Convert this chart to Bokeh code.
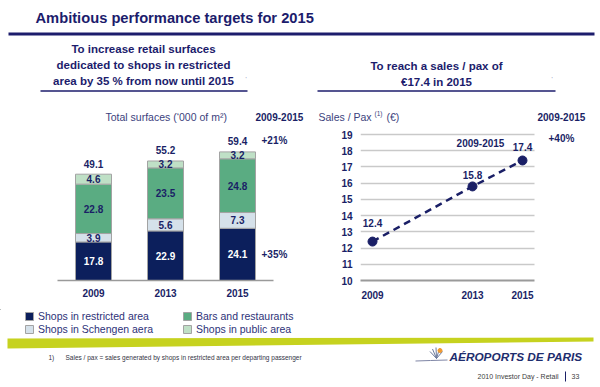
from bokeh.plotting import figure
from bokeh.models import (Range1d, FixedTicker, Label, Legend, LegendItem,
                          ColumnDataSource)
from bokeh.layouts import column, row
from bokeh.embed import file_html
from bokeh.resources import INLINE
from bokeh.core.properties import value

# ---------------- data ----------------
years = ["2009", "2013", "2015"]
shops_restricted = [17.8, 22.9, 24.1]
shops_schengen = [3.9, 5.6, 7.3]
bars_restaurants = [22.8, 23.5, 24.8]
shops_public = [4.6, 3.2, 3.2]
surface_totals = [49.1, 55.2, 59.4]
series_labels = ["Shops in restricted area", "Shops in Schengen aera",
                 "Bars and restaurants", "Shops in public area"]
surface_growth_total = "+21%"
surface_growth_restricted = "+35%"

pax_years = [2009, 2013, 2015]
sales_per_pax = [12.4, 15.8, 17.4]
pax_ticks = [10, 11, 12, 13, 14, 15, 16, 17, 18, 19]
pax_growth = "+40%"
period = "2009-2015"

title = "Ambitious performance targets for 2015"
left_sub = ["To increase retail surfaces", "dedicated to shops in restricted",
            "area by 35 % from now until 2015"]
right_sub = ["To reach a sales / pax of", "\u20ac17.4 in 2015"]

# ---------------- styles ----------------
FONT = "Liberation Sans"
NAVY_T = "#1c1c6c"
NAVY = "#1a1f66"
MUTED = "#3b3f7d"
BAR_COLORS = ["#0c1f5c", "#d5e1ea", "#5aac82", "#bfe0c6"]
BAR_LINE = "#a3a3a3"
LIME = "#c6d21f"


def canvas(w, h, y_top, y_bottom):
    p = figure(width=w, height=h, x_range=Range1d(0, w),
               y_range=Range1d(y_bottom, y_top), output_backend="svg",
               toolbar_location=None, x_axis_location=None,
               y_axis_location=None, min_border=0, title=None)
    p.grid.visible = False
    p.outline_line_color = None
    return p


def txt(p, x, y, t, size, style="normal", color=NAVY_T, align="left", **kw):
    p.text(x=x, y=y, text=t, text_font=value(FONT), text_font_size=size,
           text_font_style=style, text_color=color, text_align=align,
           text_baseline="middle", **kw)


# ---------------- header (incl. chart headings) ----------------
hdr = canvas(600, 125, 0, 125)
txt(hdr, [35], [17.5], [title], "14.7px", "bold")
hdr.segment(x0=[8], y0=[33.5], x1=[594], y1=[33.5], line_width=3,
            line_color=NAVY_T)
txt(hdr, [143] * 3, [48, 64, 80], left_sub, "11.5px", "bold", align="center")
txt(hdr, [436] * 2, [65, 81], right_sub, "11.5px", "bold", align="center")
hdr.segment(x0=[40, 317], y0=[90.5, 90.5], x1=[247, 555], y1=[90.5, 90.5],
            line_width=1.5, line_color=NAVY_T)
txt(hdr, [245, 551], [78, 78], ["'", "'"], "6px", color="#8088aa")

txt(hdr, [105], [116], ["Total surfaces (\u2018000 of m\u00b2)"], "10.5px",
    color=MUTED)
txt(hdr, [255], [116], [period], "10px", "bold", color=NAVY)
txt(hdr, [318], [116], ["Sales / Pax"], "10.5px", color=MUTED)
txt(hdr, [374], [113], ["(1)"], "6.5px", color=MUTED)
txt(hdr, [386], [116], ["(\u20ac)"], "10.5px", color=MUTED)
txt(hdr, [537], [116], [period], "10px", "bold", color=NAVY)

# ---------------- left chart: surfaces ----------------
PXU_L = 2.25
xs = list(range(len(years)))
left = figure(width=310, height=184, x_range=Range1d(-0.75, 2.75),
              y_range=Range1d(0, 159 / PXU_L), output_backend="svg",
              toolbar_location=None, y_axis_location=None, title=None,
              min_border_left=39, min_border_right=19, min_border_top=0,
              min_border_bottom=25)
left.grid.visible = False
left.outline_line_color = None

src = ColumnDataSource(dict(x=xs, restricted=shops_restricted,
                            schengen=shops_schengen, bars=bars_restaurants,
                            public=shops_public))
keys = ["restricted", "schengen", "bars", "public"]
left.vbar_stack(keys, x="x", width=0.5, fill_color=BAR_COLORS,
                line_color=BAR_LINE, line_width=1, source=src)

series = [shops_restricted, shops_schengen, bars_restaurants, shops_public]
lx, ly, lt, lc = [], [], [], []
for i in xs:
    base = 0.0
    for k, vals in enumerate(series):
        v = vals[i]
        lx.append(i)
        ly.append(base + v / 2)
        lt.append(f"{v:.1f}")
        lc.append("white" if k == 0 else NAVY)
        base += v
txt(left, lx, ly, lt, "10px", "bold", color=lc, align="center")
txt(left, xs, [t + 4.9 for t in surface_totals],
    [f"{t:.1f}" for t in surface_totals], "10px", "bold", color=NAVY,
    align="center")

ax = left.xaxis[0]
ax.ticker = FixedTicker(ticks=xs)
ax.major_label_overrides = {i: y for i, y in zip(xs, years)}
ax.bounds = (-0.5, 2.5)
ax.axis_line_color = "#9a9a9a"
ax.axis_line_width = 1.5
ax.major_tick_line_color = None
ax.minor_tick_line_color = None
ax.major_tick_out = 0
ax.major_tick_in = 0
ax.major_label_standoff = 8
ax.major_label_text_font = FONT
ax.major_label_text_font_size = "10px"
ax.major_label_text_font_style = "bold"
ax.major_label_text_color = NAVY


def lab(p, x, y, t, size, style="normal", color=NAVY, align="left"):
    p.add_layout(Label(x=x, y=y, text=t, text_font=FONT, text_font_size=size,
                       text_font_style=style, text_color=color,
                       text_align=align, text_baseline="middle"))


def lpx(px):
    return (px - 93) / 72.0


def lpy(py):
    return (284 - py) / PXU_L


lab(left, lpx(261), lpy(138), surface_growth_total, "10px", "bold")
lab(left, lpx(261), lpy(257), surface_growth_restricted, "10px", "bold")

# ---------------- right chart: sales / pax ----------------
PXU_R = 16.22
X0 = 2009 - 12 / 25
X1 = 2015 + 12 / 25
right = figure(width=290, height=184,
               x_range=Range1d(X0, X0 + 220 / 25),
               y_range=Range1d(10, 10 + 153 / PXU_R), output_backend="svg",
               toolbar_location=None, title=None, min_border_left=50,
               min_border_right=20, min_border_top=2, min_border_bottom=29)
right.outline_line_color = None
right.xgrid.visible = False
right.xaxis.ticker = FixedTicker(ticks=pax_years)
right.yaxis.ticker = FixedTicker(ticks=pax_ticks)
right.xaxis.bounds = (X0, X1)
grid_ok = True
try:
    right.ygrid.cross_bounds = (X0, X1)
except AttributeError:
    grid_ok = False
if grid_ok:
    right.ygrid.ticker = FixedTicker(ticks=pax_ticks)
    right.ygrid.grid_line_color = "#c9c9c9"
    right.ygrid.grid_line_width = 1.5
else:
    right.ygrid.visible = False
    right.segment(x0=[X0] * len(pax_ticks), x1=[X1] * len(pax_ticks),
                  y0=pax_ticks, y1=pax_ticks, line_color="#c9c9c9",
                  line_width=1.5, level="underlay")
for a in (right.xaxis[0], right.yaxis[0]):
    a.major_tick_line_color = None
    a.minor_tick_line_color = None
    a.major_tick_out = 0
    a.major_tick_in = 0
    a.major_label_text_font = FONT
    a.major_label_text_font_size = "10px"
    a.major_label_text_font_style = "bold"
    a.major_label_text_color = NAVY
right.xaxis[0].axis_line_color = "#9a9a9a"
right.xaxis[0].axis_line_width = 2
right.xaxis[0].major_label_standoff = 10
right.yaxis[0].axis_line_color = None
right.yaxis[0].major_label_standoff = 8

right.line(pax_years, sales_per_pax, line_color=NAVY, line_width=2.5,
           line_dash="7 5")
right.scatter(pax_years, sales_per_pax, size=9, color=NAVY)
LABEL_DY = [1.17, 0.68, 0.80]
txt(right, pax_years, [v + d for v, d in zip(sales_per_pax, LABEL_DY)],
    [f"{v:.1f}" for v in sales_per_pax], "10px", "bold", color=NAVY,
    align="center")


def rpx(px):
    return 2009 + (px - 372) / 25.0


def rpy(py):
    return 10 + (280 - py) / PXU_R


lab(right, rpx(480), rpy(142), period, "10px", "bold", align="center")
lab(right, rpx(548), rpy(138), pax_growth, "10px", "bold")

# ---------------- footer ----------------
foot = canvas(600, 78, 309, 387)
# legend swatches: one glyph per series, parked outside the visible range
leg_r = [foot.vbar(x=[-1000], top=[1], bottom=[0], width=1, fill_color=c,
                   line_color=BAR_LINE)
         for c in BAR_COLORS]
for idxs, vx in (([0, 1], 24), ([2, 3], 182)):
    lg = Legend(items=[LegendItem(label=series_labels[i], renderers=[leg_r[i]])
                       for i in idxs],
                location=(vx, 51.5), orientation="vertical",
                label_text_font=FONT, label_text_font_size="10.5px",
                label_text_color="#2d3278", glyph_width=10, glyph_height=10,
                label_height=13, label_standoff=4, spacing=0, padding=0,
                margin=0, border_line_color=None, background_fill_alpha=0)
    foot.add_layout(lg)

foot.patch(x=[7, 593, 593, 7], y=[338, 337, 341, 348], fill_color=LIME,
           line_color=None)
txt(foot, [48], [357], ["1)"], "6.5px", color="#333344")
txt(foot, [65], [357],
    ["Sales / pax = sales generated by shops in restricted area per departing passenger"],
    "6.5px", color="#333344")

foot.line(x=[415, 430, 447], y=[360.5, 360, 359.5], line_color="#7f86a6",
          line_width=1)
foot.segment(x0=[436] * 5, y0=[358] * 5, x1=[429.5, 432, 435.5, 439, 442],
             y1=[351, 348.5, 347, 348, 351], line_color="#6c7a9c",
             line_width=1)
foot.scatter([439.5], [350], size=4, color="#f29a2e")
txt(foot, [449], [356], ["A\u00c9ROPORTS DE PARIS"], "11.8px", "bold italic",
    color="#1e2d6e")
txt(foot, [558], [376], ["2010 Investor Day - Retail"], "7px",
    color="#404040", align="right")
foot.segment(x0=[565], y0=[371], x1=[565], y1=[381], line_color=NAVY,
             line_width=1)
txt(foot, [571], [376], ["33"], "7px", color="#404040")

layout = column(hdr, row(left, right), foot)
open("out.html", "w").write(file_html(layout, INLINE))
